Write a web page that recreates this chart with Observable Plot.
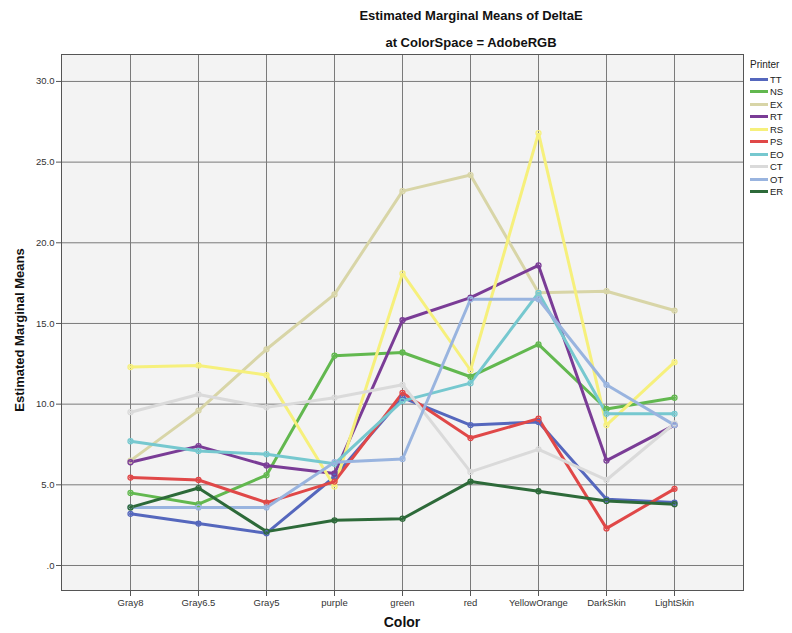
<!DOCTYPE html>
<html><head><meta charset="utf-8">
<script src="https://cdn.jsdelivr.net/npm/d3@7"></script>
<script src="https://cdn.jsdelivr.net/npm/@observablehq/plot@0.6"></script>
<style>
body{margin:0;background:#fff;font-family:"Liberation Sans",Arial,sans-serif;}
#wrap{position:relative;width:792px;height:633px;overflow:hidden;}
#wrap svg{position:absolute;left:0;top:0;}
.title{position:absolute;width:792px;text-align:center;font-weight:bold;font-size:13px;color:#111;}
#ytitle{position:absolute;left:19px;top:330px;transform:translate(-50%,-50%) rotate(-90deg);font-weight:bold;font-size:13px;color:#111;white-space:nowrap;}
#xtitle{position:absolute;left:402px;top:614px;transform:translateX(-50%);font-weight:bold;font-size:14px;color:#111;}
#legend{position:absolute;left:750px;top:59px;font-size:9.5px;color:#222;}
#legend .hd{font-size:10px;margin-bottom:3px;}
#legend .it{display:flex;align-items:center;height:12.5px;}
#legend .sw{width:18px;height:3px;margin-right:2px;}
</style></head><body>
<div id="wrap">
<div class="title" style="top:8px;left:75px">Estimated Marginal Means of DeltaE</div>
<div class="title" style="top:35px;left:75px">at ColorSpace = AdobeRGB</div>
<div id="ytitle">Estimated Marginal Means</div>
<div id="xtitle">Color</div>
<div id="legend"></div>
</div>
<script>
const colorCats = ["Gray8","Gray6.5","Gray5","purple","green","red","YellowOrange","DarkSkin","LightSkin"];
const printers = ["TT","NS","EX","RT","RS","PS","EO","CT","OT","ER"];
const printerColors = ["#5567bd","#62b84f","#d8d5a7","#7a3c96","#f6f07c","#e04848","#76c8cf","#dadada","#99b4df","#2d6a39"];
const yTicks = [0,5,10,15,20,25,30];

const TT = [3.2, 2.6, 2.0, 5.5, 10.4, 8.7, 8.9, 4.1, 3.9];
const NS = [4.5, 3.8, 5.6, 13.0, 13.2, 11.7, 13.7, 9.7, 10.4];
const EX = [6.5, 9.6, 13.4, 16.8, 23.2, 24.2, 16.9, 17.0, 15.8];
const RT = [6.4, 7.4, 6.2, 5.7, 15.2, 16.6, 18.6, 6.5, 8.7];
const RS = [12.3, 12.4, 11.8, 4.9, 18.1, 12.1, 26.8, 8.7, 12.6];
const PS = [5.45, 5.3, 3.9, 5.2, 10.7, 7.9, 9.1, 2.3, 4.75];
const EO = [7.7, 7.1, 6.9, 6.3, 10.2, 11.3, 16.9, 9.4, 9.4];
const CT = [9.5, 10.6, 9.8, 10.4, 11.2, 5.8, 7.2, 5.3, 8.8];
const OT = [3.6, 3.6, 3.6, 6.4, 6.6, 16.5, 16.5, 11.2, 8.7];
const ER = [3.6, 4.8, 2.1, 2.8, 2.9, 5.2, 4.6, 4.0, 3.8];

const series = {TT, NS, EX, RT, RS, PS, EO, CT, OT, ER};
const data = [];
for (const p of printers) series[p].forEach((v, i) => data.push({printer: p, color: colorCats[i], value: v}));

const chart = Plot.plot({
  width: 792, height: 633,
  marginLeft: 61, marginRight: 49, marginTop: 54, marginBottom: 43,
  style: {background: "transparent", fontFamily: "'Liberation Sans', Arial, sans-serif", fontSize: "9.5px", color: "#333"},
  x: {type: "point", domain: colorCats, padding: 1, label: null},
  y: {domain: [-1.55, 31.67], label: null},
  color: {domain: printers, range: printerColors},
  marks: [
    Plot.frame({fill: "#f3f3f3", stroke: null}),
    Plot.gridY(yTicks, {stroke: "#7a7a7a", strokeOpacity: 1, strokeWidth: 1}),
    Plot.gridX(colorCats, {stroke: "#7a7a7a", strokeOpacity: 1, strokeWidth: 1}),
    Plot.axisY(yTicks, {tickSize: 5, tickPadding: 2, stroke: "#555", label: null,
      tickFormat: d => d === 0 ? ".0" : d.toFixed(1)}),
    Plot.axisX(colorCats, {tickSize: 6, tickPadding: 3, stroke: "#555", label: null}),
    Plot.line(data, {x: "color", y: "value", z: "printer", stroke: "printer", strokeWidth: 3, strokeLinejoin: "miter"}),
    Plot.dot(data, {x: "color", y: "value", stroke: "printer", r: 2.5, strokeWidth: 1.3, fill: "none"}),
    Plot.frame({stroke: "#555", strokeWidth: 1})
  ]
});
document.getElementById("wrap").prepend(chart);

const leg = document.getElementById("legend");
leg.innerHTML = '<div class="hd">Printer</div>' + printers.map((p, i) =>
  `<div class="it"><div class="sw" style="background:${printerColors[i]}"></div><span>${p}</span></div>`).join("");
</script>
</body></html>
